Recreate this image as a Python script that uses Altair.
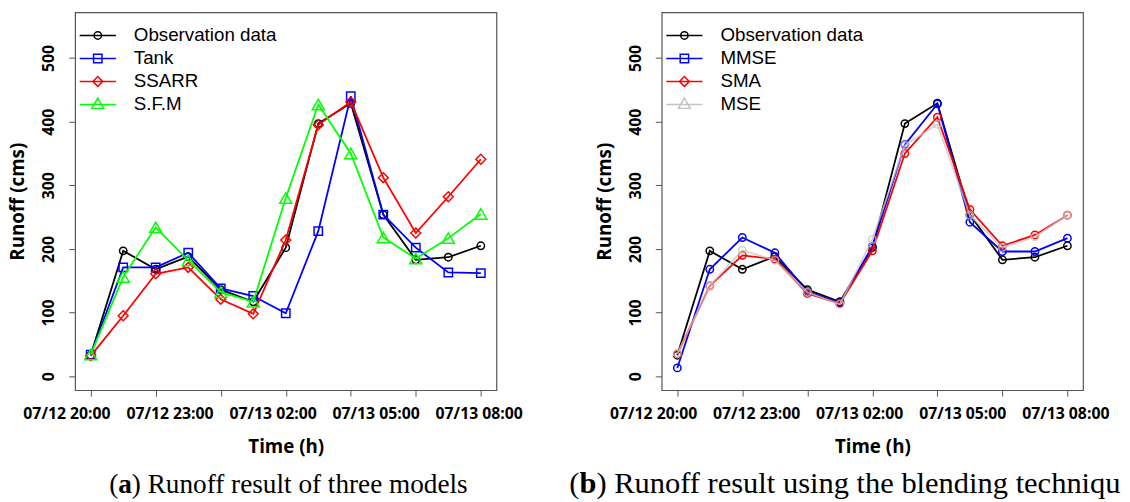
import altair as alt
import pandas as pd

# ---------------- data ----------------
hours = [1, 2, 3, 4, 5, 6, 7, 8, 9, 10, 11, 12, 13]
tick_labels = ["07/12 20:00", "07/12 23:00", "07/13 02:00", "07/13 05:00", "07/13 08:00"]
tick_label_pos = [0.27, 3.44, 6.61, 9.78, 12.95]
y_ticks = [0, 100, 200, 300, 400, 500]

observation = [33, 197, 168, 188, 136, 117, 202, 397, 429, 254, 183, 187, 205]
tank = [34, 171, 171, 194, 138, 126, 99, 228, 440, 254, 202, 163, 162]
ssarr = [32, 95, 161, 171, 121, 98, 214, 395, 431, 312, 225, 282, 341]
sfm = [34, 156, 234, 182, 132, 117, 280, 427, 350, 218, 185, 217, 255]
mmse = [13, 168, 218, 194, 133, 115, 204, 364, 428, 242, 196, 196, 217]
sma = [35, 142, 190, 184, 130, 114, 197, 350, 407, 262, 205, 222, 253]
mse = [35, 142, 198, 182, 132, 113, 215, 363, 396, 253, 202, 219, 253]

names_a = ["Observation data", "Tank", "SSARR", "S.F.M"]
names_b = ["Observation data", "MMSE", "SMA", "MSE"]
caption_a = ["(", "a", ") Runoff result of three models"]
caption_b = ["(", "b", ") Runoff result using the blending techniqu"]

# ---------------- style ----------------
W, H = 427, 383
XDOM = [0.52, 13.48]
YDOM = [-22, 572]
FRAME = "#555555"
AXFONT = "Open Sans"

colors_a = ["#000000", "#0000FF", "#FF0000", "#00FF00"]
colors_b = ["#000000", "#0000FF", "#FF0000", "#C4C4C4"]
opac_a = [1, 1, 1, 1]
opac_b = [1, 1, 1, 0.75]
shapes_a = ["circle", "square", "diamond", "triangle-up"]
shapes_b = ["circle", "circle", "circle", "circle"]
point_size = {"circle": 56, "square": 72, "diamond": 100, "triangle-up": 150}

LINE = "M-3.67,0H3.67"
PATH = {
    "circle": LINE + "M0.75,0A0.75,0.75,0,1,1,-0.75,0A0.75,0.75,0,1,1,0.75,0Z",
    "square": LINE + "M-0.85,-0.85H0.85V0.85H-0.85Z",
    "diamond": LINE + "M0,-1L1,0L0,1L-1,0Z",
    "triangle-up": LINE + "M0,-1.3L1.2,0.8H-1.2Z",
}
legend_paths = [PATH[s] for s in ["circle", "square", "diamond", "triangle-up"]]


def panel(names, series, colors, opac, shapes, caption, cap_x, cap_size, bold_w):
    rows = []
    for n, vals in zip(names, series):
        for h, v in zip(hours, vals):
            rows.append({"series": n, "hour": h, "runoff": v})
    df = pd.DataFrame(rows)
    base = alt.Chart(df)
    xs = alt.Scale(domain=XDOM, nice=False, zero=False)
    ys = alt.Scale(domain=YDOM, nice=False, zero=False)

    tick_axis = alt.Axis(values=hours, labels=False, ticks=True, tickSize=6,
                         tickColor=FRAME, tickWidth=1, domain=False, grid=False,
                         orient="bottom", title="Time (h)", titleFont=AXFONT,
                         titleFontWeight="bold", titleFontSize=19, titleColor="#000000",
                         titleY=57, titleBaseline="middle")
    y_axis = alt.Axis(values=y_ticks, labelAngle=270, labelAlign="center",
                      labelBaseline="alphabetic", labelPadding=15, tickSize=6.5,
                      tickColor=FRAME, tickWidth=1, domain=False, grid=False,
                      labelFont=AXFONT, labelFontWeight="bold", labelFontSize=16,
                      labelColor="#000000", title="Runoff (cms)", titleFont=AXFONT,
                      titleFontWeight="bold", titleFontSize=19, titleColor="#000000",
                      titleAngle=270, titleAlign="center", titleBaseline="middle",
                      titleX=-58, titleY=H / 2, labelFlush=False, labelOverlap=False,
                      orient="left")

    layers = []
    leg = alt.Legend(orient="none", legendX=-0.5, legendY=14, title=None,
                     labelFont="Liberation Sans", labelFontSize=19, labelColor="#000000",
                     symbolSize=100, symbolStrokeWidth=1.5, symbolOffset=14,
                     labelOffset=27, rowPadding=3.3, padding=0, symbolOpacity=1,
                     labelLimit=400)
    legend_layer = base.mark_point(opacity=0, filled=False).encode(
        x=alt.X("hour:Q", scale=xs, axis=tick_axis),
        y=alt.Y("runoff:Q", scale=ys, axis=y_axis),
        color=alt.Color("series:N", scale=alt.Scale(domain=names, range=colors), legend=leg),
        shape=alt.Shape("series:N", scale=alt.Scale(domain=names, range=legend_paths), legend=leg),
    )
    layers.append(legend_layer)

    for n, c, o, s in zip(names, colors, opac, shapes):
        sub = base.transform_filter(alt.datum.series == n)
        enc = dict(x=alt.X("hour:Q", scale=xs), y=alt.Y("runoff:Q", scale=ys))
        line = sub.mark_line(color=c, strokeWidth=1.8, opacity=o).encode(**enc)
        pts = sub.mark_point(shape=s, color=c, filled=False, size=point_size[s],
                             strokeWidth=1.5, opacity=o).encode(**enc)
        layers += [line, pts]

    # tick labels (placed between ticks as in the original figure)
    lab_df = pd.DataFrame({"pos": tick_label_pos, "label": tick_labels})
    labels = alt.Chart(lab_df).mark_text(
        font=AXFONT, fontWeight="bold", fontSize=16, color="#000000",
        align="center", baseline="top").encode(
        x=alt.X("pos:Q", scale=xs), y=alt.value(H + 16), text="label:N")
    layers.append(labels)

    paren_w = 0.333 * cap_size
    offsets = [0, paren_w, paren_w + bold_w * cap_size]
    weights = ["normal", "bold", "normal"]
    for part, dx, wt in zip(caption, offsets, weights):
        t = alt.Chart(pd.DataFrame({"t": [part]})).mark_text(
            font="Liberation Serif", fontSize=cap_size, fontWeight=wt, align="left",
            baseline="alphabetic", color="#000000").encode(
            text="t:N", x=alt.value(cap_x + dx), y=alt.value(487.5))
        layers.append(t)

    return alt.layer(*layers).properties(width=W, height=H)


pa = panel(names_a, [observation, tank, ssarr, sfm], colors_a, opac_a, shapes_a,
           caption_a, 34.5, 27.6, 0.5)
pb = panel(names_b, [observation, mmse, sma, mse], colors_b, opac_b, shapes_b,
           caption_b, -93.6, 30.9, 0.556)

chart = alt.hconcat(pa, pb, spacing=44.5).resolve_scale(
    color="independent", shape="independent"
).configure_view(stroke=FRAME, strokeWidth=1.2).properties(
    padding={"left": 0, "top": 0, "right": 0, "bottom": 0}
)

chart.save("out.html", embed_options={"renderer": "svg", "actions": False})
